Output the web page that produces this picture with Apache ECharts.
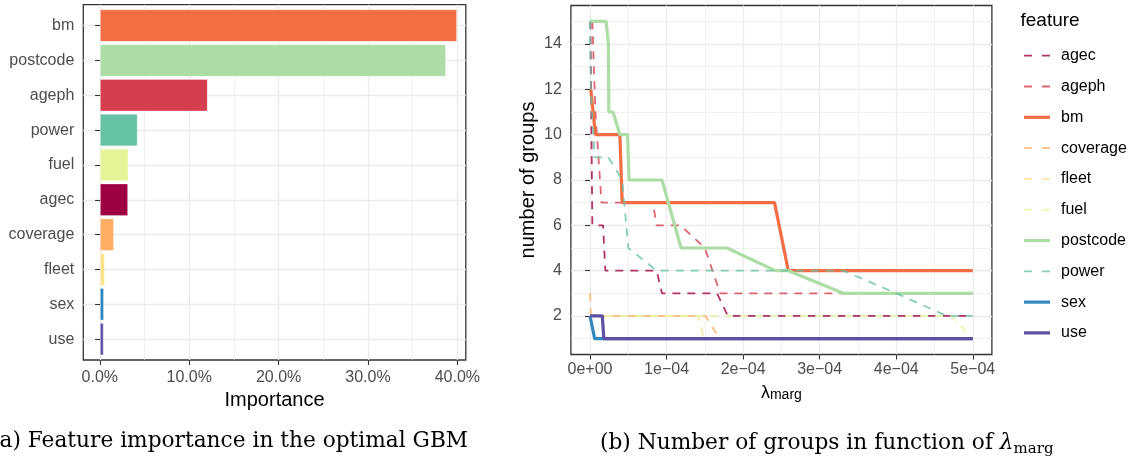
<!DOCTYPE html>
<html><head><meta charset="utf-8">
<script src="https://cdn.jsdelivr.net/npm/echarts@6/dist/echarts.min.js"></script>
<style>
html,body{margin:0;padding:0;background:#fff;width:1132px;height:463px;overflow:hidden;position:relative}
#right{position:absolute;left:0;top:0;width:1132px;height:463px}
#left{position:absolute;left:0;top:0;width:483px;height:463px}
.cap{position:absolute;font-family:'DejaVu Serif',serif;font-size:21.7px;line-height:21.7px;color:#000;white-space:nowrap}
.sub{font-size:15px;position:relative;top:4px}
</style></head><body>
<div id="right"></div><div id="left"></div>
<div class="cap" style="left:-9px;top:429px">(a) Feature importance in the optimal GBM</div>
<div class="cap" style="left:600px;top:431px">(b) Number of groups in function of <i>λ</i><span class="sub">marg</span></div>
<script>
// ---------- Panel (a) data ----------
const features = ['bm','postcode','ageph','power','fuel','agec','coverage','fleet','sex','use'];
const importance = [39.2, 38.0, 11.8, 4.1, 3.1, 3.05, 1.5, 0.5, 0.4, 0.37];
const importanceTicks = [0, 10, 20, 30, 40];
const importanceTickLabels = ['0.0%', '10.0%', '20.0%', '30.0%', '40.0%'];
const importanceMinorTicks = [5, 15, 25, 35];

// ---------- Panel (b) data ----------
const legendFeatures = ['agec','ageph','bm','coverage','fleet','fuel','postcode','power','sex','use'];
const lambdaTicks = [0, 1e-4, 2e-4, 3e-4, 4e-4, 5e-4];
const lambdaTickLabels = ['0e+00', '1e\u221204', '2e\u221204', '3e\u221204', '4e\u221204', '5e\u221204'];
const lambdaMinorTicks = [0.5e-4, 1.5e-4, 2.5e-4, 3.5e-4, 4.5e-4];
const groupTicks = [2, 4, 6, 8, 10, 12, 14];
const groupMinorTicks = [1, 3, 5, 7, 9, 11, 13, 15];

const agecLambda = [0.005e-4, 0.03e-4, 0.17e-4, 0.2e-4, 0.87e-4, 0.94e-4, 1.66e-4, 1.8e-4, 5e-4];
const agecGroups = [15, 6, 6, 4, 4, 3, 3, 2, 2];
const agephLambda = [0.03e-4, 0.07e-4, 0.15e-4, 0.82e-4, 0.87e-4, 1.18e-4, 1.5e-4, 1.7e-4, 5e-4];
const agephGroups = [15, 11, 7, 7, 6, 6, 5, 3, 3];
const bmLambda = [0.01e-4, 0.07e-4, 0.39e-4, 0.42e-4, 2.41e-4, 2.59e-4, 5e-4];
const bmGroups = [12, 10, 10, 7, 7, 4, 4];
const coverageLambda = [0, 0.01e-4, 1.51e-4, 1.69e-4, 5e-4];
const coverageGroups = [3, 2, 2, 1, 1];
const fleetLambda = [0, 1.41e-4, 1.49e-4, 5e-4];
const fleetGroups = [2, 2, 1, 1];
const fuelLambda = [0, 4.72e-4, 5e-4];
const fuelGroups = [2, 2, 1];
const postcodeLambda = [0, 0.21e-4, 0.24e-4, 0.245e-4, 0.30e-4, 0.39e-4, 0.49e-4, 0.51e-4, 0.94e-4, 1.19e-4, 1.79e-4, 2.42e-4, 2.59e-4, 3.31e-4, 5e-4];
const postcodeGroups = [15, 15, 14, 11, 11, 10, 10, 8, 8, 5, 5, 4, 4, 3, 3];
const powerLambda = [0, 0.01e-4, 0.06e-4, 0.24e-4, 0.42e-4, 0.5e-4, 0.87e-4, 3.31e-4, 4.0e-4, 4.66e-4, 5e-4];
const powerGroups = [15, 12, 9, 9, 8, 5, 4, 4, 3, 2, 2];
const sexLambda = [0, 0.02e-4, 0.06e-4, 5e-4];
const sexGroups = [2, 2, 1, 1];
const useLambda = [0, 0.16e-4, 0.18e-4, 5e-4];
const useGroups = [2, 2, 1, 1];

const seriesLambda = {agec:agecLambda, ageph:agephLambda, bm:bmLambda, coverage:coverageLambda, fleet:fleetLambda, fuel:fuelLambda, postcode:postcodeLambda, power:powerLambda, sex:sexLambda, use:useLambda};
const seriesGroups = {agec:agecGroups, ageph:agephGroups, bm:bmGroups, coverage:coverageGroups, fleet:fleetGroups, fuel:fuelGroups, postcode:postcodeGroups, power:powerGroups, sex:sexGroups, use:useGroups};

// ---------- styles ----------
const featureColor = {agec:'#9E0142', ageph:'#D53E4F', bm:'#F46D43', coverage:'#FDAE61', fleet:'#FEE08B', fuel:'#E6F598', postcode:'#ABDDA4', power:'#66C2A5', sex:'#3288BD', use:'#5E4FA2'};
const solidFeatures = ['bm','postcode','sex','use'];
const FONT = 'Liberation Sans, Arial, Helvetica, sans-serif';
const GRID_COL = '#EBEBEB';
const TICK_COL = '#333333';
const LABEL_COL = '#4D4D4D';

function pickLabel(ticks, labels, v) {
  let best = 0, d = Infinity;
  ticks.forEach((t, i) => { const dd = Math.abs(t - v); if (dd < d) { d = dd; best = i; } });
  return labels[best];
}

// ---------- Panel (a) ----------
const PA = {l:83.3, t:4.7, w:389.4, h:355.3};
const xMinA = -1.85, xMaxA = 40.95;
const left = echarts.init(document.getElementById('left'));
left.setOption({
  animation:false,
  backgroundColor:'transparent',
  textStyle:{fontFamily:FONT},
  grid:[
    {left:PA.l, top:PA.t, width:PA.w, height:PA.h, show:true, borderColor:TICK_COL, borderWidth:1.3, backgroundColor:'transparent'},
    {left:PA.l, top:PA.t + PA.h*0.1/10.2, width:PA.w, height:PA.h*10/10.2}
  ],
  xAxis:[
    {type:'value', gridIndex:0, min:xMinA, max:xMaxA,
     axisLine:{show:false},
     axisTick:{show:true, customValues:importanceTicks, length:5, lineStyle:{color:TICK_COL, width:1.1}},
     axisLabel:{customValues:importanceTicks, formatter:v => pickLabel(importanceTicks, importanceTickLabels, v), color:LABEL_COL, fontSize:16, margin:10, fontFamily:FONT},
     splitLine:{show:true, lineStyle:{color:GRID_COL, width:1.3}},
     name:'Importance', nameLocation:'middle', nameGap:29, nameTextStyle:{fontSize:20, color:'#000', fontFamily:FONT}},
    {type:'value', gridIndex:0, min:xMinA, max:xMaxA,
     axisLine:{show:false}, axisTick:{show:false, customValues:importanceMinorTicks}, axisLabel:{show:false, customValues:importanceMinorTicks},
     splitLine:{show:true, lineStyle:{color:GRID_COL, width:0.7}}},
    {type:'value', gridIndex:1, min:xMinA, max:xMaxA, show:false}
  ],
  yAxis:[
    {type:'value', gridIndex:0, min:0.4, max:10.6,
     axisLine:{show:false}, axisTick:{show:false, customValues:[1,2,3,4,5,6,7,8,9,10]}, axisLabel:{show:false, customValues:[1,2,3,4,5,6,7,8,9,10]},
     splitLine:{show:true, lineStyle:{color:GRID_COL, width:1.3}}},
    {type:'category', gridIndex:1, data:features, inverse:true,
     axisLine:{show:false},
     axisTick:{show:true, alignWithLabel:true, length:5, lineStyle:{color:TICK_COL, width:1.1}},
     axisLabel:{color:LABEL_COL, fontSize:16, margin:9, fontFamily:FONT},
     splitLine:{show:false}}
  ],
  series:[{
    type:'bar', xAxisIndex:2, yAxisIndex:1, barWidth:'92%',
    data:features.map((f, i) => ({value:importance[i], itemStyle:{color:featureColor[f]}})),
    itemStyle:{borderColor:'rgba(255,255,255,0.6)', borderWidth:0.5}
  }]
});

// ---------- Panel (b) ----------
const PB = {l:570.9, t:5.5, w:421, h:349};
const LEG = {x:1024, y0:55.7, step:30.8, keyW:26, textX:1061};
const legendGraphics = [{type:'text', left:1020.5, top:11, style:{text:'feature', fontSize:19, fill:'#000', fontFamily:FONT}}];
legendFeatures.forEach((f, i) => {
  const solid = solidFeatures.indexOf(f) >= 0;
  const y = LEG.y0 + i*LEG.step;
  legendGraphics.push({type:'line', shape:{x1:LEG.x, y1:y, x2:LEG.x + LEG.keyW, y2:y},
    style:{stroke:featureColor[f], lineWidth:solid ? 3.2 : 1.8, lineDash:solid ? null : [8, 10], opacity:solid ? 1 : 0.8}});
  legendGraphics.push({type:'text', x:LEG.textX, y:y,
    style:{text:f, fontSize:16, fill:'#000', fontFamily:FONT, verticalAlign:'middle', align:'left'}});
});

const right = echarts.init(document.getElementById('right'));
right.setOption({
  animation:false,
  backgroundColor:'#ffffff',
  textStyle:{fontFamily:FONT},
  grid:{left:PB.l, top:PB.t, width:PB.w, height:PB.h, show:true, borderColor:TICK_COL, borderWidth:1.3, backgroundColor:'transparent'},
  xAxis:[
    {type:'value', min:-0.25e-4, max:5.25e-4,
     axisLine:{show:false},
     axisTick:{show:true, customValues:lambdaTicks, length:5, lineStyle:{color:TICK_COL, width:1.1}},
     axisLabel:{customValues:lambdaTicks, formatter:v => pickLabel(lambdaTicks, lambdaTickLabels, v), color:LABEL_COL, fontSize:16, margin:7, fontFamily:FONT},
     splitLine:{show:true, lineStyle:{color:GRID_COL, width:1.3}},
     name:'{l|λ}{s|marg}', nameLocation:'middle', nameGap:30,
     nameTextStyle:{color:'#000', fontFamily:FONT, rich:{
       l:{fontSize:18, lineHeight:18, verticalAlign:'top', color:'#000', fontFamily:FONT},
       s:{fontSize:14, lineHeight:14, padding:[6,0,0,0], verticalAlign:'bottom', color:'#000', fontFamily:FONT}}}},
    {type:'value', min:-0.25e-4, max:5.25e-4,
     axisLine:{show:false}, axisTick:{show:false, customValues:lambdaMinorTicks}, axisLabel:{show:false, customValues:lambdaMinorTicks},
     splitLine:{show:true, lineStyle:{color:GRID_COL, width:0.7}}}
  ],
  yAxis:[
    {type:'value', min:0.3, max:15.7,
     axisLine:{show:false},
     axisTick:{show:true, customValues:groupTicks, length:5, lineStyle:{color:TICK_COL, width:1.1}},
     axisLabel:{customValues:groupTicks, color:LABEL_COL, fontSize:16, margin:9, fontFamily:FONT},
     splitLine:{show:true, lineStyle:{color:GRID_COL, width:1.3}},
     name:'number of groups', nameLocation:'middle', nameGap:32, nameTextStyle:{fontSize:20, color:'#000', fontFamily:FONT}},
    {type:'value', min:0.3, max:15.7,
     axisLine:{show:false}, axisTick:{show:false, customValues:groupMinorTicks}, axisLabel:{show:false, customValues:groupMinorTicks},
     splitLine:{show:true, lineStyle:{color:GRID_COL, width:0.7}}}
  ],
  graphic:legendGraphics,
  series:legendFeatures.map(f => {
    const solid = solidFeatures.indexOf(f) >= 0;
    return {
      type:'line', name:f, symbol:'none', xAxisIndex:0, yAxisIndex:0,
      data:seriesLambda[f].map((x, i) => [x, seriesGroups[f][i]]),
      itemStyle:{color:featureColor[f], opacity:solid ? 1 : 0.8},
      lineStyle:{color:featureColor[f], width:solid ? 3.2 : 1.8, type:solid ? 'solid' : [8, 7], opacity:solid ? 1 : 0.8},
      emphasis:{disabled:true}
    };
  })
});
</script>
</body></html>
